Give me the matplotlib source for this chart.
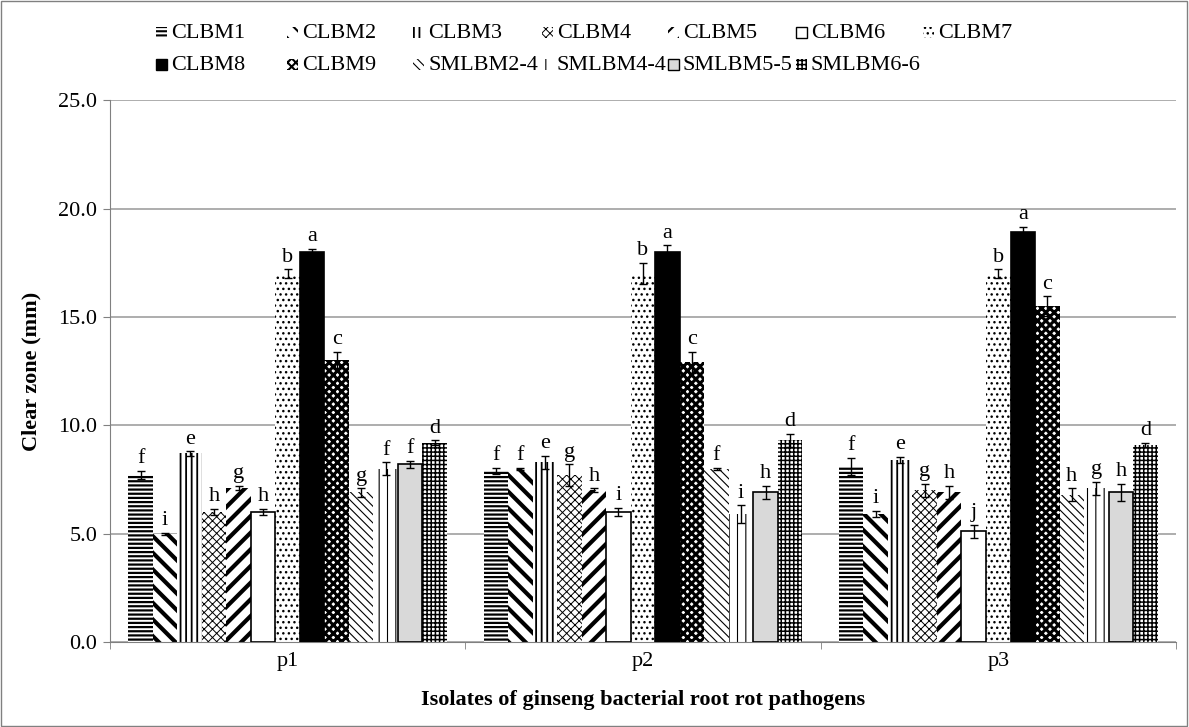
import numpy as np
import matplotlib
matplotlib.use("Agg")
import matplotlib.pyplot as plt
from matplotlib.patches import Rectangle

plt.rcParams['font.family'] = ['Liberation Serif', 'DejaVu Serif']
plt.rcParams['hatch.linewidth'] = 1.2

groups = ['p1', 'p2', 'p3']
isolates = ['CLBM1', 'CLBM2', 'CLBM3', 'CLBM4', 'CLBM5', 'CLBM6', 'CLBM7',
            'CLBM8', 'CLBM9', 'SMLBM2-4', 'SMLBM4-4', 'SMLBM5-5', 'SMLBM6-6']

# clear zone (mm) per isolate for p1, p2, p3
values = [
    [7.7, 7.9, 8.1],
    [5.0, 8.0, 5.9],
    [8.7, 8.3, 8.4],
    [6.0, 7.7, 7.0],
    [7.1, 7.0, 6.9],
    [6.0, 6.0, 5.1],
    [17.0, 17.0, 17.0],
    [18.0, 18.0, 18.9],
    [13.0, 12.9, 15.5],
    [6.9, 8.0, 6.8],
    [8.0, 5.9, 7.1],
    [8.2, 6.9, 6.9],
    [9.2, 9.3, 9.1],
]
errors = [
    [0.2, 0.15, 0.4],
    [0.05, 0.05, 0.15],
    [0.1, 0.3, 0.15],
    [0.15, 0.5, 0.3],
    [0.1, 0.1, 0.3],
    [0.15, 0.2, 0.3],
    [0.2, 0.5, 0.2],
    [0.15, 0.3, 0.25],
    [0.4, 0.5, 0.45],
    [0.2, 0.05, 0.3],
    [0.3, 0.4, 0.3],
    [0.15, 0.3, 0.4],
    [0.1, 0.3, 0.1],
]
letters = [
    ['f', 'f', 'f'],
    ['i', 'f', 'i'],
    ['e', 'e', 'e'],
    ['h', 'g', 'g'],
    ['g', 'h', 'h'],
    ['h', 'i', 'j'],
    ['b', 'b', 'b'],
    ['a', 'a', 'a'],
    ['c', 'c', 'c'],
    ['g', 'f', 'h'],
    ['f', 'i', 'g'],
    ['f', 'h', 'h'],
    ['d', 'd', 'd'],
]

faces = ['white', 'white', 'white', 'white', 'white', 'white', 'white',
         'black', 'white', 'white', 'white', '#d9d9d9', 'white']
hatches = ['----', '\\\\', '|||', 'xxxx', '//', '', '...',
           '', 'xxxx', '\\\\\\\\', '||', '', '++++']
hatch_lw = [1.6, 3.0, 1.3, 0.7, 3.0, 1, 1, 1, 2.2, 0.8, 0.8, 1, 1.1]
outlined = [False, False, False, False, False, True, False,
            True, False, False, False, True, False]

fig = plt.figure(figsize=(11.89, 7.27), dpi=100)
ax = fig.add_axes([0.0925, 0.117, 0.8965, 0.745])


def set_hlw(p, lw):
    if hasattr(p, 'set_hatch_linewidth'):
        p.set_hatch_linewidth(lw)


x = np.arange(len(groups))
n = len(isolates)
w = 0.069
for i in range(n):
    pos = x - w * (n - 1) / 2 + i * w
    with plt.rc_context({'hatch.linewidth': hatch_lw[i]}):
        bars = ax.bar(pos, values[i], w, color=faces[i], hatch=hatches[i],
                      edgecolor='black', linewidth=0, zorder=2)
    for p in bars:
        set_hlw(p, hatch_lw[i])
    if outlined[i]:
        ax.bar(pos, values[i], w, color='none', edgecolor='black',
               linewidth=1.2, zorder=3)
    ax.errorbar(pos, values[i], yerr=errors[i], fmt='none', ecolor='black',
                elinewidth=1, capsize=3, capthick=1, zorder=4)
    for j in range(len(groups)):
        ax.text(pos[j], values[i][j] + errors[i][j] + 0.12, letters[i][j],
                ha='center', va='bottom', fontsize=16)

ax.set_xlim(-0.5, 2.5)
ax.set_ylim(0, 25)
ax.set_xticks(x)
ax.set_xticklabels(groups, fontsize=16)
ax.set_xticks([-0.5, 0.5, 1.5, 2.5], minor=True)
ax.tick_params(axis='x', which='major', length=0, pad=7)
ax.tick_params(axis='x', which='minor', length=5, color='#808080')
ax.set_yticks(np.arange(0, 26, 5))
ax.set_yticklabels(['%.1f' % v for v in np.arange(0, 26, 5)], fontsize=16)
ax.tick_params(axis='y', length=5, color='#808080', pad=4)
ax.yaxis.grid(True, color='#a0a0a0', linewidth=1.2, zorder=0)
ax.set_axisbelow(True)
for s in ['top', 'right']:
    ax.spines[s].set_visible(False)
ax.spines['left'].set_color('#808080')
ax.spines['bottom'].set_color('#808080')

ax.set_ylabel('Clear zone (mm)', fontsize=16, fontweight='bold', labelpad=12)
ax.set_xlabel('Isolates of ginseng bacterial root rot pathogens', fontsize=16,
              fontweight='bold', labelpad=14)

# legend drawn by hand: two rows, fixed column pitch like the original
W, H = 1189.0, 727.0
col_x = [156, 287, 413, 542, 668, 796, 923]
row_y = [33, 65]
for k in range(n):
    r, c = divmod(k, 7)
    hx, hy = col_x[c], row_y[r]
    with plt.rc_context({'hatch.linewidth': min(hatch_lw[k], 1.5)}):
        rect = Rectangle((hx / W, 1 - (hy + 5) / H), 11 / W, 11 / H,
                         transform=fig.transFigure, facecolor=faces[k],
                         hatch=hatches[k], edgecolor='black',
                         linewidth=1 if outlined[k] else 0)
    set_hlw(rect, min(hatch_lw[k], 1.5))
    fig.patches.append(rect)
    fig.text((hx + 15) / W, 1 - hy / H, isolates[k], fontsize=16,
             ha='left', va='center')

fig.patches.append(Rectangle((0.001, 0.001), 0.997, 0.997, transform=fig.transFigure,
                             fill=False, edgecolor='#808080', linewidth=1))

fig.savefig('out.png', dpi=100)
